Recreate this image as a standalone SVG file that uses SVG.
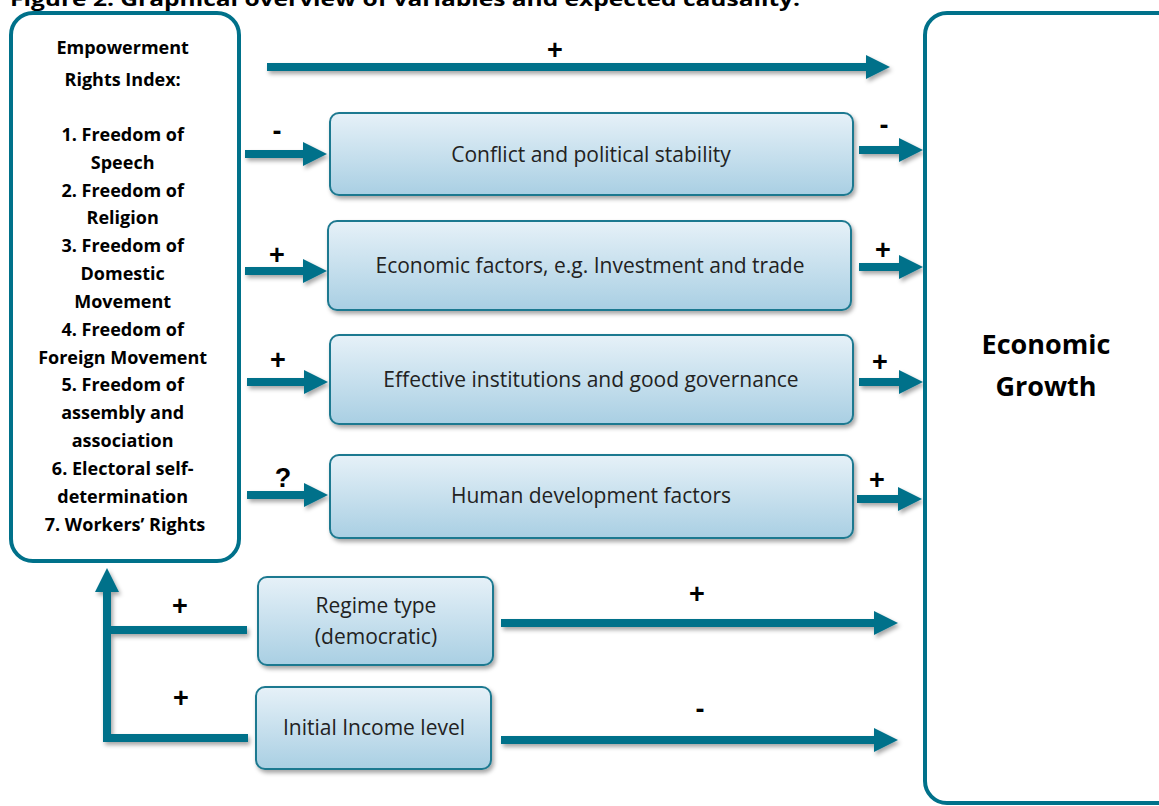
<svg xmlns="http://www.w3.org/2000/svg" width="1159" height="806" viewBox="0 0 1159 806">
  <defs>
    <linearGradient id="boxFill" x1="0" y1="0" x2="0" y2="1">
      <stop offset="0" stop-color="#E6F1F8"/>
      <stop offset="1" stop-color="#A9CFE3"/>
    </linearGradient>
    <filter id="shadow" x="-10%" y="-20%" width="120%" height="150%">
      <feDropShadow dx="2" dy="3" stdDeviation="2" flood-color="#000" flood-opacity="0.35"/>
    </filter>
    <marker id="head" viewBox="0 0 24 24" markerWidth="24" markerHeight="24" refX="1" refY="12" markerUnits="userSpaceOnUse" orient="auto">
      <path d="M0,0 L24,12 L0,24 Z" fill="#00718A"/>
    </marker>
    <style>
      .frame { fill: #FFFFFF; stroke: #00718A; stroke-width: 4; }
      .box { fill: url(#boxFill); stroke: #1F7990; stroke-width: 2; filter: url(#shadow); }
      .boxText { font-family: "Open Sans", "Noto Sans", sans-serif; font-size: 21px; fill: #222; text-anchor: middle; }
      .listText { font-family: "Open Sans", "Noto Sans", sans-serif; font-weight: bold; font-size: 18px; fill: #000; text-anchor: middle; }
      .bigText { font-family: "Open Sans", "Noto Sans", sans-serif; font-weight: bold; font-size: 27px; fill: #000; text-anchor: middle; }
      .sign { font-family: "Liberation Sans", Arial, sans-serif; font-weight: bold; font-size: 27px; fill: #000; text-anchor: middle; }
      .title { font-family: "Open Sans", "Noto Sans", sans-serif; font-weight: bold; font-size: 20px; fill: #000; }
      .arrow { fill: none; stroke: #00718A; stroke-width: 8; marker-end: url(#head); }
      .plain { fill: none; stroke: #00718A; stroke-width: 8; }
    </style>
  </defs>

  <rect width="1159" height="806" fill="#FFFFFF"/>

  <!-- caption, partly above the page edge -->
  <text class="title" x="10" y="6" textLength="790" lengthAdjust="spacingAndGlyphs">Figure 2: Graphical overview of variables and expected causality.</text>

  <!-- connectors -->
  <g id="connectors" filter="url(#shadow)">
    <!-- index straight to growth -->
    <line class="arrow" x1="267" y1="67" x2="867" y2="67"/>
    <!-- index into channels -->
    <line class="arrow" x1="245" y1="154" x2="304" y2="154"/>
    <line class="arrow" x1="245" y1="271" x2="304" y2="271"/>
    <line class="arrow" x1="247" y1="382" x2="305" y2="382"/>
    <line class="arrow" x1="247" y1="495" x2="305" y2="495"/>
    <!-- channels into growth -->
    <line class="arrow" x1="859" y1="150" x2="900" y2="150"/>
    <line class="arrow" x1="859" y1="267" x2="900" y2="267"/>
    <line class="arrow" x1="859" y1="382" x2="900" y2="382"/>
    <line class="arrow" x1="857" y1="499" x2="899" y2="499"/>
    <!-- controls into growth -->
    <line class="arrow" x1="501" y1="623" x2="875" y2="623"/>
    <line class="arrow" x1="501" y1="740" x2="875" y2="740"/>
    <!-- controls back into the index -->
    <path class="plain" d="M247,630 H107"/>
    <path class="arrow" d="M248,738 H107 V591" stroke-linejoin="miter"/>
  </g>

  <!-- signs on connectors -->
  <g id="signs">
    <text class="sign" x="555" y="59">+</text>
    <text class="sign" x="277" y="140">-</text>
    <text class="sign" x="884" y="134">-</text>
    <text class="sign" x="277" y="264">+</text>
    <text class="sign" x="883" y="259">+</text>
    <text class="sign" x="278" y="369">+</text>
    <text class="sign" x="880" y="371">+</text>
    <text class="sign" x="283" y="487">?</text>
    <text class="sign" x="877" y="489">+</text>
    <text class="sign" x="180" y="615">+</text>
    <text class="sign" x="697" y="603">+</text>
    <text class="sign" x="181" y="707">+</text>
    <text class="sign" x="700" y="718">-</text>
  </g>

  <!-- empowerment rights index -->
  <g id="node-index">
    <rect class="frame" x="11" y="13" width="228" height="548" rx="22"/>
    <text class="listText">
      <tspan x="125" y="54">Empowerment</tspan>
      <tspan x="125" y="86">Rights Index:</tspan>
      <tspan x="125" y="141">1. Freedom of</tspan>
      <tspan x="125" y="169">Speech</tspan>
      <tspan x="125" y="197">2. Freedom of</tspan>
      <tspan x="125" y="224">Religion</tspan>
      <tspan x="125" y="252">3. Freedom of</tspan>
      <tspan x="125" y="280">Domestic</tspan>
      <tspan x="125" y="308">Movement</tspan>
      <tspan x="125" y="336">4. Freedom of</tspan>
      <tspan x="125" y="364">Foreign Movement</tspan>
      <tspan x="125" y="391">5.  Freedom of</tspan>
      <tspan x="125" y="419">assembly and</tspan>
      <tspan x="125" y="447">association</tspan>
      <tspan x="125" y="475">6. Electoral self-</tspan>
      <tspan x="125" y="503">determination</tspan>
      <tspan x="125" y="531">7. Workers’ Rights</tspan>
    </text>
  </g>

  <!-- economic growth -->
  <g id="node-growth">
    <rect class="frame" x="925" y="13" width="262" height="790" rx="22"/>
    <text class="bigText" x="1046" y="354">Economic</text>
    <text class="bigText" x="1046" y="396">Growth</text>
  </g>

  <!-- transmission channels -->
  <g id="node-conflict">
    <rect class="box" x="330" y="113" width="523" height="82" rx="9"/>
    <text class="boxText" x="591" y="162">Conflict and political stability</text>
  </g>
  <g id="node-economic">
    <rect class="box" x="328" y="221" width="523" height="89" rx="9"/>
    <text class="boxText" x="590" y="273">Economic factors, e.g. Investment and trade</text>
  </g>
  <g id="node-institutions">
    <rect class="box" x="330" y="335" width="523" height="89" rx="9"/>
    <text class="boxText" x="591" y="387">Effective institutions and good governance</text>
  </g>
  <g id="node-human">
    <rect class="box" x="330" y="455" width="523" height="83" rx="9"/>
    <text class="boxText" x="591" y="503">Human development factors</text>
  </g>

  <!-- control variables -->
  <g id="node-regime">
    <rect class="box" x="258" y="577" width="235" height="88" rx="9"/>
    <text class="boxText" x="376" y="613">Regime type</text>
    <text class="boxText" x="376" y="644">(democratic)</text>
  </g>
  <g id="node-income">
    <rect class="box" x="256" y="687" width="235" height="82" rx="9"/>
    <text class="boxText" x="374" y="735">Initial Income level</text>
  </g>
</svg>
